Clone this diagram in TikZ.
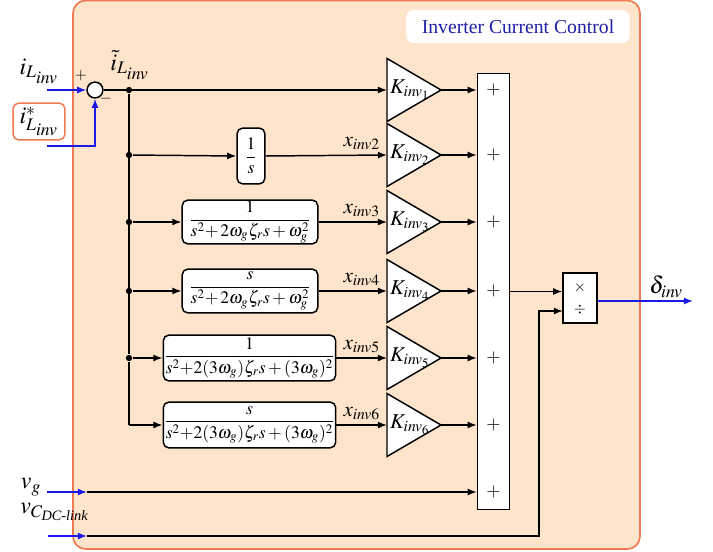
\documentclass[tikz,border=0pt]{standalone}
\usepackage{amsmath}
\usepackage{mathptmx}
\usepackage[no-math]{fontspec}
\setmainfont{Liberation Serif}
\usetikzlibrary{arrows.meta}
\definecolor{peach}{HTML}{FDE4CB}
\definecolor{frame}{HTML}{F27A52}
\definecolor{inblue}{HTML}{1A1AE6}
\definecolor{titleblue}{HTML}{1F1FA8}

\begin{document}
\begin{tikzpicture}[x=0.025cm,y=-0.025cm,font=\fontsize{15}{17}\selectfont,line width=1.05pt,
  sig/.style={-{Latex[length=6.5pt,width=5pt]}},
  insig/.style={sig,draw=inblue},
  block/.style={draw,fill=white,rounded corners=4pt,inner sep=0pt,font=\fontsize{12.5}{14}\selectfont},
  biglabel/.style={font=\fontsize{17}{19}\selectfont},
  smallsign/.style={font=\fontsize{11}{13}\selectfont},
  dot/.style={circle,fill,inner sep=0pt,minimum size=4.5pt},
  xlabel/.style={anchor=south east,inner sep=1pt}]
\useasboundingbox (0,0) rectangle (713,552);
\draw[draw=frame,fill=peach,line width=1.2pt,rounded corners=9pt] (73,0.5) rectangle (640,549);
\node[fill=white,rounded corners=5pt,minimum width=158.8pt,minimum height=23.4pt,text=titleblue,
  font=\fontsize{14}{16}\selectfont] (title) at (518,26.5) {Inverter Current Control};

\node[circle,draw,fill=white,minimum size=11.3pt,inner sep=0pt] (sum) at (95,90) {};
\node[biglabel] (iL) at (39,71) {$i_{L_{\scriptstyle\mathit{inv}}}$};
\coordinate (iLin) at (47,90);
\draw[insig] (iLin) -- (sum.west);
\node[block,draw=frame,minimum width=36.9pt,minimum height=26.2pt,biglabel] (iref) at (39,121.5) {$i^{*}_{L_{\scriptstyle\mathit{inv}}}$};
\coordinate (irefin) at (47,146);
\draw[insig] (irefin) -| (sum.south);
\node[smallsign] (pl) at (81,76) {$+$};
\node[smallsign] (mi) at (106,99) {$-$};
\node[biglabel,anchor=west] (itil) at (105,65) {$\tilde{i}_{L_{\scriptstyle\mathit{inv}}}$};

\node[dot] (b1) at (129,90) {};
\node[dot] (b2) at (129,155) {};
\node[dot] (b3) at (129,222) {};
\node[dot] (b4) at (129,291) {};
\node[dot] (b5) at (129,358) {};
\coordinate (b6) at (129,425);

\node[block,minimum width=19.8pt,minimum height=39.7pt] (f2) at (251,156) {$\dfrac{1}{s}$};
\node[block,minimum width=96.4pt,minimum height=31.2pt] (f3) at (250,222) {$\dfrac{1}{s^2{+}\,2\omega_g\zeta_r s+\omega_g^2}$};
\node[block,minimum width=96.4pt,minimum height=31.2pt] (f4) at (250,291) {$\dfrac{s}{s^2{+}\,2\omega_g\zeta_r s+\omega_g^2}$};
\node[block,minimum width=122.6pt,minimum height=32.6pt] (f5) at (249.5,358) {$\dfrac{1}{s^2{+}2(3\omega_g)\zeta_r s+(3\omega_g)^2}$};
\node[block,minimum width=122.6pt,minimum height=32.6pt] (f6) at (249.5,425) {$\dfrac{s}{s^2{+}2(3\omega_g)\zeta_r s+(3\omega_g)^2}$};

\foreach \k/\y in {1/90,2/155,3/222,4/291,5/358,6/425}{
  \draw[fill=white] (387,\y-31.5) -- (441,\y) -- (387,\y+31.5) -- cycle;
  \coordinate (kin\k) at (387,\y);
  \coordinate (kout\k) at (441,\y);
  \node (k\k) at (410,\y) {$K_{\mathit{inv}_{\k}}$};
}

\node[draw,fill=white,minimum width=22.7pt,minimum height=309.7pt,inner sep=0pt] (S) at (493.5,291.5) {};
\foreach \y in {90,155,222,291,358,425,492}
  \node[font=\fontsize{13}{15}\selectfont] at (493.5,\y) {$+$};

\draw[sig] (sum.east) -- (kin1);
\draw (b1) -- (b5) -- (b6);
\draw[sig] (b2) -- (f2.west);
\draw[sig] (b3) -- (f3.west);
\draw[sig] (b4) -- (f4.west);
\draw[sig] (b5) -- (f5.west);
\draw[sig] (b6) -- (f6.west);
\foreach \k in {2,...,6}
  \draw[sig] (f\k.east) -- (kin\k);
\foreach \k in {1,...,6}
  \draw[sig] (kout\k) -- (kout\k -| S.west);

\node[xlabel] (x2) at (382,152) {$x_{\mathit{inv}2}$};
\node[xlabel] (x3) at (382,219) {$x_{\mathit{inv}3}$};
\node[xlabel] (x4) at (382,288) {$x_{\mathit{inv}4}$};
\node[xlabel] (x5) at (382,355) {$x_{\mathit{inv}5}$};
\node[xlabel] (x6) at (382,422) {$x_{\mathit{inv}6}$};

\node[draw,fill=white,minimum width=24.1pt,minimum height=35.4pt,inner sep=0pt] (P) at (580,298) {};
\node[smallsign] (mul) at (580,288) {$\times$};
\node[smallsign] (dv) at (580,310) {$\div$};
\draw[sig] (S.east) -- (S.east -| P.west);

\coordinate (dout) at (693,301);
\draw[insig] (dout -| P.east) -- (dout);
\node[biglabel] (delta) at (666,287) {$\delta_{\mathit{inv}}$};

\node[biglabel] (vg) at (31,487) {$v_g$};
\coordinate (vgin) at (47,492);
\coordinate (vgturn) at (87,492);
\draw[insig] (vgin) -- (vgturn);
\draw[sig] (vgturn) -- (vgturn -| S.west);

\node[biglabel,anchor=west] (vc) at (15,512) {$v_{C_{\text{\itshape DC-link}}}$};
\coordinate (vcin) at (48,536);
\coordinate (vcturn) at (87,536);
\coordinate (vcup) at (539,311);
\coordinate (pdiv) at (563,311);
\draw[insig] (vcin) -- (vcturn);
\draw[sig] (vcturn) -| (vcup) -- (pdiv);
\end{tikzpicture}
\end{document}
